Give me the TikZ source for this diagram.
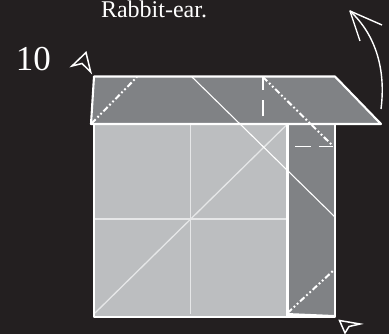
\documentclass[tikz,border=0pt]{standalone}
\usepackage{fontspec}
\setmainfont{Liberation Serif}
\definecolor{paperdark}{HTML}{231F20}
\definecolor{flapgray}{HTML}{808285}
\definecolor{facegray}{HTML}{BCBEC0}
\definecolor{creasegray}{HTML}{E6E7E8}
\tikzset{
  edgeline/.style={white,line width=2.1pt},
  creaseline/.style={creasegray,line width=1.3pt},
  thinline/.style={white,line width=1.1pt},
  valleyline/.style={white,line width=1.9pt},
  mountainline/.style={white,line width=2pt,dash pattern=on 6pt off 2.5pt on 1.8pt off 2.5pt on 1.8pt off 2.5pt},
  pushtip/.style={white,line width=1.5pt,fill=paperdark,line join=miter}
}
\begin{document}
\begin{tikzpicture}[x=1pt,y=-1pt,line cap=butt,line join=round]
  \fill[paperdark] (0,0) rectangle (389,334);
  \clip (0,0) rectangle (389,334);
  \coordinate (SL) at (94,124);
  \coordinate (SR) at (287.5,124);
  \coordinate (BL) at (94,317);
  \coordinate (BM) at (287.5,317);
  \coordinate (BR) at (335,317);
  \coordinate (TR) at (335,124);
  \coordinate (FA) at (94,76.5);
  \coordinate (FB) at (335,76.5);
  \coordinate (FC) at (381,124);
  \coordinate (FD) at (91,124);
  % square and strip
  \fill[facegray] (SL) rectangle (BM);
  \fill[flapgray] (SR) rectangle (BR);
  \draw[creaseline] (190.5,124) -- (190.5,314);
  \draw[creaseline] (SL |- 0,219) -- (287,219);
  \draw[creaseline] (95,313) -- (SR);
  \draw[thinline] (FB |- 0,217) -- (192,77);
  \draw[edgeline] (SR) -- (BM);
  \draw[edgeline] (TR) -- (BR) -- (BL) -- (SL);
  \fill[white] (287,313) -- (334,315) -- (334,316.5) -- (287,316.5) -- cycle;
  % flap
  \fill[flapgray] (FA) -- (FB) -- (FC) -- (FD) -- cycle;
  \draw[thinline] (192,77) -- (240,124);
  \draw[edgeline] (FD) -- (FA) -- (FB) -- (FC) -- cycle;
  % folds
  \draw[mountainline] (91.5,123.5) -- (137,77);
  \draw[mountainline] (263,77) -- (333,146);
  \draw[valleyline] (263,116.5) -- (263,100) (263,90) -- (263,77);
  \draw[valleyline] (295,146.5) -- (311,146.5) (319,146.5) -- (333,146.5);
  \draw[mountainline] (287.5,313) -- (334,270);
  % arrows
  \draw[white,line width=1.4pt] (381,109) .. controls (386,70) and (376,35) .. (350,11);
  \draw[white,line width=1.4pt] (382,25) -- (350,11) -- (360,41);
  \draw[pushtip] (90.7,72) -- (86,52.5) -- (72,66) -- (82,63.5) -- cycle;
  \draw[pushtip] (339.5,320.5) -- (360,324) -- (349,326.5) -- (345,333) -- cycle;
  % labels
  \node[white,font=\fontsize{24pt}{26pt}\selectfont,anchor=base,inner sep=0pt] (caption) at (154,18) {Rabbit-ear.};
  \node[white,font=\fontsize{35pt}{36pt}\selectfont,anchor=base] (stepnum) at (33.5,71) {10};
\end{tikzpicture}
\end{document}
